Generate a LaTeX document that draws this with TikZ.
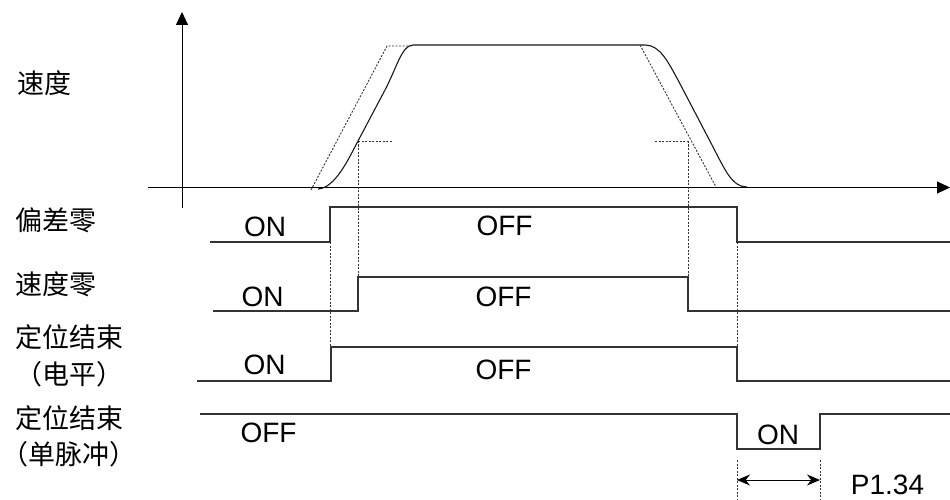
\documentclass[tikz,border=0pt]{standalone}
\usepackage{fontspec}
\setmainfont{Liberation Sans}
\newfontfamily\cjk{Noto Sans CJK SC}
\usetikzlibrary{arrows.meta}

\begin{document}
\begin{tikzpicture}[
  x=1pt, y=-1pt,
  axis/.style  = {line width=1pt, -{Triangle[length=13pt,width=12pt]}},
  speed/.style = {line width=1.1pt, black!90},
  guide/.style = {line width=0.9pt, black!80, dash pattern=on 2pt off 1.5pt},
  sig/.style   = {line width=1.2pt, black!80},
  lbl/.style   = {inner sep=0pt, font=\cjk\fontsize{27}{30}\selectfont},
  state/.style = {inner sep=0pt, font=\fontsize{28}{30}\selectfont},
  span/.style  = {line width=1pt, {Stealth[length=13pt,width=11pt]}-{Stealth[length=13pt,width=11pt]}},
]
\useasboundingbox (0,0) rectangle (950,500);

% ---- axes -------------------------------------------------------------------
\coordinate (ybot) at (182,208);
\coordinate (ytop) at (182,12);
\coordinate (xleft) at (148,187.5);
\coordinate (xright) at (950,187.5);
\draw[axis] (ybot) -- (ytop);
\draw[axis] (xleft) -- (xright);

% ---- speed profile ----------------------------------------------------------
\draw[speed] (318,189) .. controls (335,188) and (348,160) .. (358,141)
  -- (385,90) .. controls (397,67) and (402,45) .. (413,45)
  -- (645,45) .. controls (660,45) and (668,62) .. (678,80)
  -- (712,145) .. controls (725,170) and (732,187) .. (747,187);
\draw[guide] (311,190) -- (387,46) -- (413,46);
\draw[guide] (640,45) -- (716,187);

% ---- thresholds and time marks ---------------------------------------------
\draw[guide] (358,141) -- (393,141);
\draw[guide] (655,141) -- (688,141);
\draw[guide] (358,141) -- (358,277);
\draw[guide] (688,141) -- (688,277);
\draw[guide] (330,242) -- (330,347);
\draw[guide] (737,242) -- (737,347);
\draw[guide] (737,460) -- (737,500);
\draw[guide] (820,460) -- (820,500);

% ---- output signals ---------------------------------------------------------
\draw[sig] (210,242) -- (330,242) -- (330,207) -- (737,207) -- (737,242) -- (950,242);
\draw[sig] (213,311) -- (358,311) -- (358,277) -- (688,277) -- (688,311) -- (950,311);
\draw[sig] (197,381) -- (331,381) -- (331,347) -- (737,347) -- (737,381) -- (950,381);
\draw[sig] (200,414) -- (737,414) -- (737,449) -- (820,449) -- (820,414) -- (950,414);

% ---- labels -----------------------------------------------------------------
\node[lbl] (lSpeed) at (44.5,83.5) {速度};
\node[lbl] (lDev)   at (55.5,220)  {偏差零};
\node[lbl] (lZero)  at (55.5,284.5) {速度零};
\node[lbl] (lLvA)   at (70,337)    {定位结束};
\node[lbl] (lLvB)   at (69,374)    {（电平）};
\node[lbl] (lPlA)   at (70,418)    {定位结束};
\node[lbl] (lPlB)   at (69,454)    {（单脉冲）};

\node[state] (on1)  at (265,227)   {ON};
\node[state] (off1) at (504.5,226) {OFF};
\node[state] (on2)  at (262.5,297) {ON};
\node[state] (off2) at (503.5,297) {OFF};
\node[state] (on3)  at (264.5,364.5) {ON};
\node[state] (off3) at (503.5,370) {OFF};
\node[state] (off4) at (268.5,433) {OFF};
\node[state] (on4)  at (778,434.5) {ON};

% ---- pulse width ------------------------------------------------------------
\coordinate (pa) at (737,480);
\coordinate (pb) at (820,480);
\draw[span] (pa) -- (pb);
\node[state] (par) at (887.5,485) {P1.34};

\end{tikzpicture}
\end{document}
